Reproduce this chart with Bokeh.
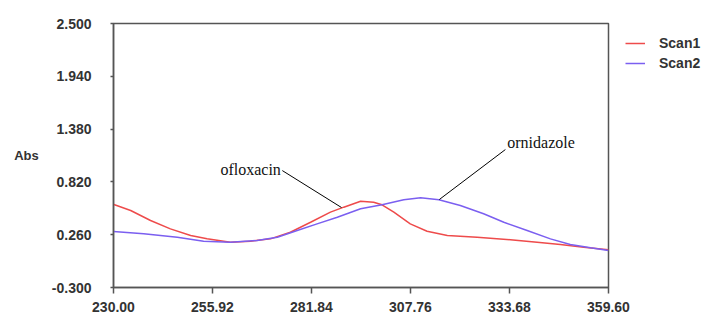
from bokeh.plotting import figure
from bokeh.models import Range1d, FixedTicker, PrintfTickFormatter, Legend, LegendItem
from bokeh.core.properties import value
from bokeh.embed import file_html
from bokeh.resources import INLINE

# Scan1 (ofloxacin) - wavelength (nm) vs absorbance
scan1_x = [230.1, 234.5, 239.7, 244.9, 250.2, 254.5, 260.6, 265.9, 271.1, 276.3,
           281.6, 286.8, 290.3, 294.7, 298.1, 300.3, 303.4, 307.7, 312.1, 317.4,
           325.2, 333.9, 340.9, 347.0, 353.1, 359.6]
scan1_y = [0.580, 0.517, 0.411, 0.322, 0.251, 0.216, 0.180, 0.191, 0.216, 0.286,
           0.392, 0.499, 0.552, 0.615, 0.605, 0.577, 0.499, 0.375, 0.297, 0.251,
           0.233, 0.206, 0.180, 0.156, 0.127, 0.100]

# Scan2 (ornidazole)
scan2_x = [230.0, 237.9, 246.7, 253.6, 260.6, 267.6, 272.9, 278.1, 283.3, 288.6,
           294.7, 300.3, 306.0, 310.4, 315.2, 320.8, 326.9, 332.2, 338.3, 344.4,
           349.6, 354.9, 359.6]
scan2_y = [0.294, 0.269, 0.233, 0.191, 0.180, 0.198, 0.233, 0.304, 0.375, 0.445,
           0.535, 0.577, 0.630, 0.651, 0.630, 0.570, 0.482, 0.392, 0.304, 0.216,
           0.156, 0.121, 0.092]

x_ticks = [230.00, 255.92, 281.84, 307.76, 333.68, 359.60]
y_ticks = [-0.300, 0.260, 0.820, 1.380, 1.940, 2.500]

# annotations
ann_text = ["ofloxacin", "ornidazole"]
ann_tx = [258.0, 333.1]
ann_ty = [0.951, 1.238]
lead_x0 = [274.2, 332.6]
lead_y0 = [0.940, 1.163]
lead_x1 = [289.7, 315.3]
lead_y1 = [0.548, 0.633]

p = figure(frame_width=495, frame_height=264, output_backend="svg", toolbar_location=None,
           x_range=Range1d(230, 359.6), y_range=Range1d(-0.3, 2.5),
           min_border_left=113, min_border_right=93, min_border_top=23, min_border_bottom=29)
p.xgrid.visible = False
p.ygrid.visible = False
p.outline_line_color = "#555555"
p.outline_line_width = 1.5
p.background_fill_color = "white"
p.border_fill_color = "white"

r1 = p.line(scan1_x, scan1_y, line_color="#ee4b4b", line_width=1.5)
r2 = p.line(scan2_x, scan2_y, line_color="#7b5ff0", line_width=1.5)

p.segment(x0=lead_x0, y0=lead_y0, x1=lead_x1, y1=lead_y1, line_color="black", line_width=1)
p.text(x=ann_tx, y=ann_ty, text=ann_text, text_font=value("Liberation Serif"),
       text_font_size="16px", text_align="left", text_baseline="middle", text_color="#111111")

for ax, ticks, fmt in ((p.xaxis[0], x_ticks, "%.2f"), (p.yaxis[0], y_ticks, "%.3f")):
    ax.ticker = FixedTicker(ticks=ticks)
    ax.formatter = PrintfTickFormatter(format=fmt)
    ax.minor_tick_line_color = None
    ax.major_tick_in = 0
    ax.axis_line_color = "#555555"
    ax.axis_line_width = 1.5
    ax.major_tick_line_color = "#555555"
    ax.major_tick_line_width = 1.5
    ax.major_label_text_font = "Liberation Sans"
    ax.major_label_text_font_style = "bold"
    ax.major_label_text_font_size = "14px"
    ax.major_label_text_color = "#333333"

p.xaxis[0].major_tick_out = 6
p.xaxis[0].major_label_standoff = 8
p.yaxis[0].major_tick_out = 3
p.yaxis[0].major_label_standoff = 19

yax = p.yaxis[0]
yax.axis_label = "Abs"
yax.axis_label_orientation = "horizontal"
yax.axis_label_standoff = 10
yax.axis_label_text_font = "Liberation Sans"
yax.axis_label_text_font_style = "bold"
yax.axis_label_text_font_size = "13px"
yax.axis_label_text_color = "#333333"

legend = Legend(items=[LegendItem(label="Scan1", renderers=[r1]),
                       LegendItem(label="Scan2", renderers=[r2])],
                location=(17, 214), margin=0, padding=0, spacing=0,
                glyph_width=20, glyph_height=20, label_height=20, label_standoff=14,
                label_text_font="Liberation Sans", label_text_font_style="bold",
                label_text_font_size="14px", label_text_color="#333333",
                border_line_color=None, background_fill_alpha=0)
p.add_layout(legend, "right")

open("out.html", "w").write(file_html(p, INLINE))
